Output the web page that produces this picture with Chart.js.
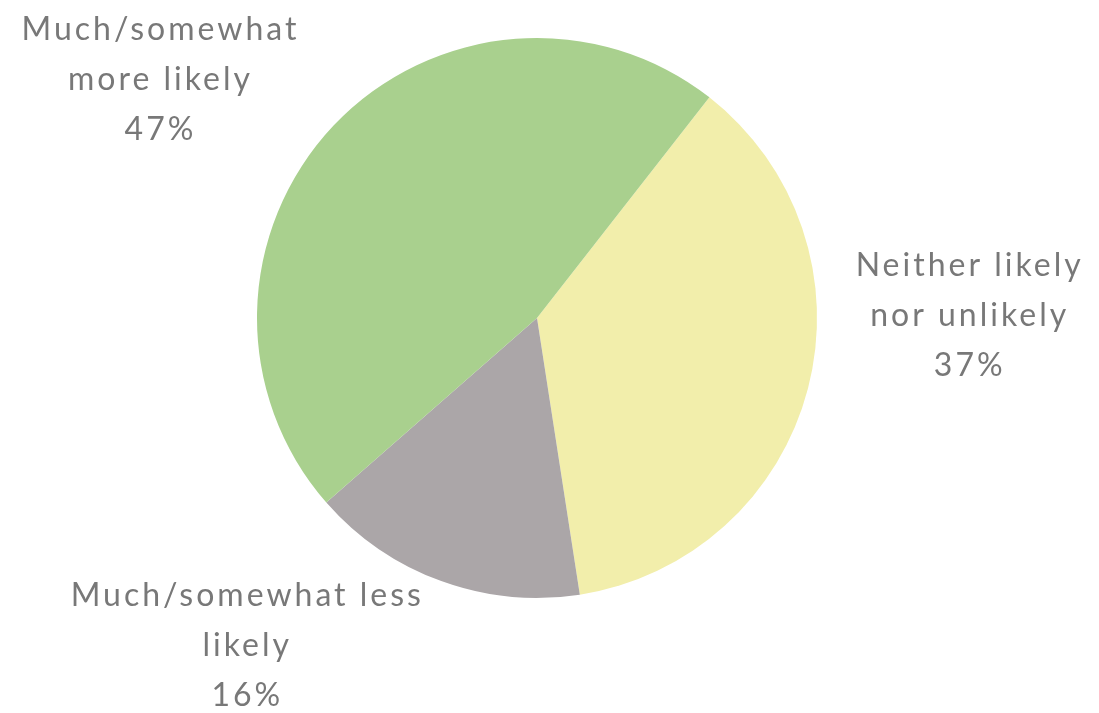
<!DOCTYPE html>
<html>
<head>
<meta charset="utf-8">
<script src="https://cdn.jsdelivr.net/npm/chart.js@4"></script>
<style>
  html, body { margin: 0; padding: 0; background: #fff; }
  #wrap { width: 1099px; height: 713px; }
</style>
</head>
<body>
<div id="wrap"><canvas id="myChart" width="1099" height="713"></canvas></div>
<script>
// slice order runs clockwise from the yellow slice
var labels = [
  ['Neither likely', 'nor unlikely'],
  ['Much/somewhat less', 'likely'],
  ['Much/somewhat', 'more likely']
];
var values = [37, 16, 47];
var colors = ['#f2eeab', '#aba6a8', '#a9d08e'];

// where each label block sits, in units of pie radius from centre
var labelOffsets = [[1.54, -0.01], [-1.04, 1.17], [-1.35, -0.85]];

var outsideLabels = {
  id: 'outsideLabels',
  afterDraw: function(chart) {
    var c = chart.ctx;
    var arc = chart.getDatasetMeta(0).data[0];
    var r = arc.outerRadius;
    var sp = 3;
    c.save();
    c.fillStyle = '#787878';
    c.font = '32px Lato, "Open Sans", sans-serif';
    c.letterSpacing = sp + 'px';
    c.textAlign = 'center';
    c.textBaseline = 'middle';
    chart.data.labels.forEach(function(lab, i) {
      var x = arc.x + labelOffsets[i][0] * r + sp / 2;
      var y = arc.y + labelOffsets[i][1] * r;
      var lines = lab.concat([chart.data.datasets[0].data[i] + '%']);
      lines.forEach(function(t, j) {
        c.fillText(t, x, y + (j - 1) * 50);
      });
    });
    c.restore();
  }
};

var ctx = document.getElementById('myChart');
var myChart = new Chart(ctx, {
  type: 'pie',
  data: {
    labels: labels,
    datasets: [{
      data: values,
      backgroundColor: colors,
      borderWidth: 0
    }]
  },
  options: {
    responsive: false,
    animation: false,
    rotation: 38,
    layout: { padding: { left: 257, right: 282, top: 38, bottom: 115 } },
    plugins: {
      legend: { display: false },
      tooltip: { enabled: false }
    }
  },
  plugins: [outsideLabels]
});
</script>
</body>
</html>
